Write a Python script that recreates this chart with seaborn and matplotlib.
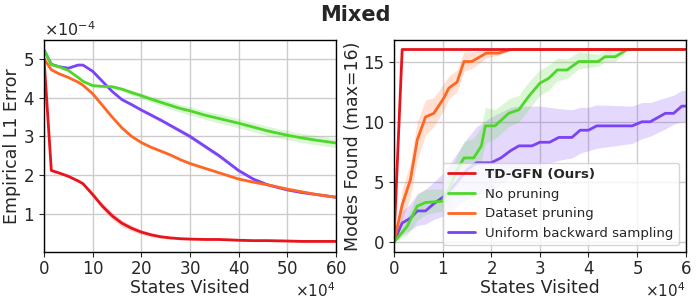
import matplotlib
matplotlib.use("Agg")
import matplotlib.pyplot as plt
import numpy as np
import pandas as pd
import seaborn as sns

METHODS = ["TD-GFN (Ours)", "No pruning", "Dataset pruning", "Uniform backward sampling"]
COLORS = {
    "TD-GFN (Ours)": "#e8141c",
    "No pruning": "#4fd62a",
    "Dataset pruning": "#ff6622",
    "Uniform backward sampling": "#7b42f6",
}

# left panel: empirical L1 error (x1e-4) vs states visited
l1_states = [0, 15000, 30000, 50000, 70000, 80000, 100000, 120000, 140000, 160000, 180000,
             200000, 220000, 240000, 260000, 280000, 300000, 330000, 360000, 400000,
             430000, 460000, 500000, 530000, 560000, 600000]
l1_td = [5.0, 2.12, 2.06, 1.97, 1.85, 1.78, 1.50, 1.20, 0.95, 0.76, 0.63,
         0.53, 0.46, 0.41, 0.38, 0.36, 0.35, 0.34, 0.34, 0.32,
         0.31, 0.31, 0.30, 0.29, 0.29, 0.29]
l1_td_sd = [0.0, 0.03, 0.03, 0.03, 0.03, 0.04, 0.06, 0.08, 0.09, 0.08, 0.07,
            0.06, 0.05, 0.04, 0.03, 0.03, 0.02, 0.02, 0.02, 0.02,
            0.02, 0.02, 0.02, 0.02, 0.02, 0.02]
l1_nop = [5.23, 4.85, 4.80, 4.70, 4.52, 4.42, 4.31, 4.29, 4.28, 4.22, 4.13,
          4.05, 3.96, 3.88, 3.80, 3.72, 3.66, 3.55, 3.46, 3.34,
          3.24, 3.14, 3.03, 2.96, 2.90, 2.83]
l1_nop_sd = [0.0, 0.02, 0.02, 0.02, 0.03, 0.03, 0.03, 0.04, 0.05, 0.05, 0.06,
             0.07, 0.08, 0.09, 0.10, 0.10, 0.11, 0.11, 0.12, 0.12,
             0.12, 0.12, 0.12, 0.12, 0.12, 0.12]
l1_ds = [5.0, 4.72, 4.62, 4.52, 4.40, 4.32, 4.10, 3.80, 3.50, 3.22, 3.00,
         2.84, 2.72, 2.62, 2.52, 2.40, 2.30, 2.18, 2.06, 1.90,
         1.82, 1.75, 1.64, 1.57, 1.50, 1.43]
l1_ds_sd = [0.0, 0.02, 0.02, 0.02, 0.02, 0.02, 0.03, 0.03, 0.03, 0.03, 0.03,
            0.03, 0.03, 0.03, 0.03, 0.03, 0.03, 0.03, 0.03, 0.03,
            0.03, 0.02, 0.02, 0.02, 0.02, 0.02]
l1_ubs = [5.23, 4.86, 4.80, 4.76, 4.84, 4.84, 4.68, 4.42, 4.16, 3.95, 3.82,
          3.68, 3.55, 3.42, 3.28, 3.14, 3.00, 2.75, 2.50, 2.12,
          1.90, 1.75, 1.62, 1.55, 1.50, 1.43]
l1_ubs_sd = [0.0, 0.02, 0.02, 0.02, 0.02, 0.02, 0.03, 0.03, 0.03, 0.04, 0.04,
             0.04, 0.05, 0.05, 0.05, 0.06, 0.06, 0.06, 0.06, 0.05,
             0.04, 0.04, 0.03, 0.03, 0.03, 0.03]

# right panel: modes found vs states visited
td_states = [0, 1700, 60000]
td_modes = [0, 16, 16]
td_lo = [0, 16, 16]
td_hi = [0, 16, 16]

ds_states = [0, 1700, 3400, 4800, 6500, 8200, 10300, 11300, 13000, 14400, 16000, 19000, 21500, 24000, 60000]
ds_modes = [0, 3.1, 5.2, 8.5, 10.4, 10.7, 12.0, 12.8, 13.3, 15.0, 15.0, 15.7, 15.7, 16, 16]
ds_lo = [0, 1.8, 3.8, 6.8, 8.9, 9.6, 11.0, 11.9, 12.5, 14.2, 14.4, 15.3, 15.5, 16, 16]
ds_hi = [0, 4.4, 6.6, 10.0, 11.8, 12.0, 13.2, 13.8, 14.3, 15.8, 15.8, 16.0, 16.0, 16, 16]

nop_states = [0, 2700, 4800, 6500, 10000, 11500, 13000, 14400, 16400, 18000, 18800, 20800, 23600,
              25700, 27700, 30000, 31800, 33600, 35600, 38000, 42000, 43400, 45500, 48000, 60000]
nop_modes = [0, 1.3, 3.0, 3.3, 3.4, 4.6, 6.0, 7.0, 7.0, 8.0, 9.66, 9.66, 10.7,
             11.0, 12.1, 13.2, 13.6, 14.3, 14.3, 15.0, 15.0, 15.4, 15.4, 16, 16]
nop_lo = [0, 0.6, 1.8, 2.3, 2.6, 3.4, 4.8, 5.6, 6.0, 6.8, 8.2, 8.6, 9.6,
          10.0, 11.0, 12.2, 12.6, 13.4, 13.6, 14.4, 14.6, 15.0, 15.0, 16, 16]
nop_hi = [0, 2.0, 4.0, 4.4, 4.4, 5.8, 7.2, 8.4, 8.6, 9.6, 11.2, 11.0, 11.9,
          12.2, 13.3, 14.3, 14.7, 15.3, 15.2, 15.8, 15.6, 15.9, 16.0, 16, 16]

ubs_states = [0, 1700, 3400, 4800, 6500, 8200, 10300, 13000, 15000, 17000, 20000, 22000, 24000,
              25700, 28400, 30000, 32000, 33900, 36600, 38300, 40000, 41700, 49000, 51000, 52700,
              55800, 57500, 59200, 60000]
ubs_modes = [0, 1.6, 2.0, 2.6, 2.6, 3.2, 3.8, 5.0, 6.0, 6.6, 6.6, 7.0, 7.6,
             8.0, 8.0, 8.3, 8.3, 8.7, 8.7, 9.3, 9.3, 9.66, 9.66, 10.0, 10.0,
             10.7, 10.7, 11.3, 11.3]
ubs_lo = [0, 0.6, 1.0, 1.4, 1.5, 1.9, 2.2, 3.0, 3.6, 4.0, 4.2, 4.8, 5.4,
          5.8, 6.2, 6.4, 6.6, 6.8, 7.0, 7.4, 7.6, 7.8, 8.2, 8.6, 8.8,
          9.4, 9.8, 10.0, 10.0]
ubs_hi = [0, 2.6, 3.2, 4.0, 4.4, 5.0, 5.8, 7.4, 8.6, 9.6, 10.4, 10.8, 11.2,
          11.3, 11.3, 11.3, 11.2, 11.1, 11.0, 11.2, 11.2, 11.4, 11.3, 11.6, 11.6,
          12.0, 12.2, 12.6, 12.6]


def long_frame(states, series):
    rows = []
    for name, vals in series.items():
        xs = states[name] if isinstance(states, dict) else states
        for s, v in zip(xs, vals):
            rows.append({"states": s, "value": v, "method": name})
    return pd.DataFrame(rows)


sns.set_style("ticks")
plt.rcParams["font.family"] = ["DejaVu Sans"]
plt.rcParams["axes.edgecolor"] = "black"

fig, (ax1, ax2) = plt.subplots(1, 2, figsize=(6.99, 3.02), dpi=100)
fig.subplots_adjust(left=0.063, right=0.981, top=0.868, bottom=0.166, wspace=0.199)

# left panel
l1_series = {
    "TD-GFN (Ours)": (l1_td, l1_td_sd),
    "No pruning": (l1_nop, l1_nop_sd),
    "Dataset pruning": (l1_ds, l1_ds_sd),
    "Uniform backward sampling": (l1_ubs, l1_ubs_sd),
}
scale = 1e-4
df_l1 = long_frame(l1_states, {k: np.array(v[0]) * scale for k, v in l1_series.items()})
for name in ["No pruning", "Dataset pruning", "Uniform backward sampling", "TD-GFN (Ours)"]:
    mean, sd = np.array(l1_series[name][0]), np.array(l1_series[name][1])
    ax1.fill_between(l1_states, (mean - sd) * scale, (mean + sd) * scale,
                     color=COLORS[name], alpha=0.2, linewidth=0)
sns.lineplot(data=df_l1, x="states", y="value", hue="method", hue_order=METHODS[::-1],
             palette=COLORS, linewidth=2, legend=False, ax=ax1)
ax1.set_xlim(0, 600000)
ax1.set_ylim(0.02e-4, 5.49e-4)
ax1.set_xticks(np.arange(0, 600001, 100000))
ax1.set_yticks(np.arange(1, 6) * 1e-4)
ax1.set_xlabel("States Visited", fontsize=12.5, labelpad=1)
ax1.set_ylabel("Empirical L1 Error", fontsize=12.5, labelpad=1)

# right panel
mode_states = {"TD-GFN (Ours)": td_states, "No pruning": nop_states,
               "Dataset pruning": ds_states, "Uniform backward sampling": ubs_states}
mode_vals = {"TD-GFN (Ours)": td_modes, "No pruning": nop_modes,
             "Dataset pruning": ds_modes, "Uniform backward sampling": ubs_modes}
mode_bands = {"TD-GFN (Ours)": (td_lo, td_hi), "No pruning": (nop_lo, nop_hi),
              "Dataset pruning": (ds_lo, ds_hi), "Uniform backward sampling": (ubs_lo, ubs_hi)}
df_modes = long_frame(mode_states, mode_vals)
for name in ["Uniform backward sampling", "No pruning", "Dataset pruning", "TD-GFN (Ours)"]:
    lo, hi = mode_bands[name]
    ax2.fill_between(mode_states[name], lo, hi, color=COLORS[name], alpha=0.2, linewidth=0)
sns.lineplot(data=df_modes, x="states", y="value", hue="method", hue_order=METHODS[::-1],
             palette=COLORS, linewidth=2, legend=False, ax=ax2)
ax2.set_xlim(0, 60000)
ax2.set_ylim(-0.8, 16.8)
ax2.set_xticks(np.arange(0, 60001, 10000))
ax2.set_yticks([0, 5, 10, 15])
ax2.set_xlabel("States Visited", fontsize=12.5, labelpad=1)
ax2.set_ylabel("Modes Found (max=16)", fontsize=12.5, labelpad=1)

handles = [plt.Line2D([], [], color=COLORS[m], linewidth=2) for m in METHODS]
leg = ax2.legend(handles, METHODS, loc="lower right", fontsize=9.6, framealpha=0.8,
                 handlelength=2.0, borderpad=0.4, labelspacing=0.5)
leg.get_texts()[0].set_fontweight("bold")

for ax in (ax1, ax2):
    ax.grid(True, color="#cccccc", linewidth=1)
    ax.set_axisbelow(True)
    ax.tick_params(axis="y", labelsize=12, length=3.5, pad=3.5)
    ax.tick_params(axis="x", labelsize=12, length=3.5, pad=2)
    for sp in ax.spines.values():
        sp.set_visible(True)
        sp.set_linewidth(1)
    ax.ticklabel_format(axis="x", style="sci", scilimits=(4, 4), useMathText=True)
    ax.xaxis.get_offset_text().set_fontsize(11)
    ax.yaxis.get_offset_text().set_fontsize(11.5)
ax1.ticklabel_format(axis="y", style="sci", scilimits=(-4, -4), useMathText=True)

fig.suptitle("Mixed", fontsize=15, fontweight="bold", x=0.509, y=0.985)
fig.savefig("out.png", dpi=100)
